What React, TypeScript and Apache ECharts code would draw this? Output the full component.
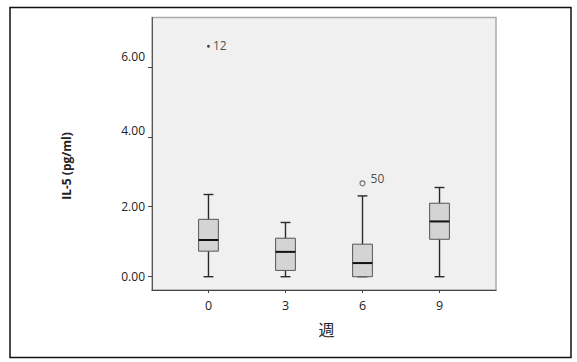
import React, { useEffect, useRef } from "react";
import * as echarts from "echarts";

const weeks = [0, 3, 6, 9];
const whiskerLow = [0, 0, 0, 0];
const q1 = [0.73, 0.18, 0.0, 1.07];
const median = [1.05, 0.71, 0.39, 1.58];
const q3 = [1.64, 1.1, 0.93, 2.1];
const whiskerHigh = [2.35, 1.55, 2.31, 2.55];

const outlierWeeks = [0, 6];
const outlierValues = [6.59, 2.67];
const outlierIds = ["12", "50"];
const outlierKinds = ["extreme", "outlier"];

const yTicks = [0, 2, 4, 6];
const xTicks = [0, 3, 6, 9];

const FONT = "'Open Sans', 'Noto Sans', sans-serif";

export default function App() {
  const ref = useRef<HTMLDivElement>(null);

  useEffect(() => {
    if (!ref.current) return;
    const chart = echarts.init(ref.current, undefined, { renderer: "svg" });

    const boxData = weeks.map((w, i) => [w, whiskerLow[i], q1[i], median[i], q3[i], whiskerHigh[i]]);
    const boxWidthUnits = 0.77;

    const outlierData = outlierWeeks.map((w, i) => {
      const extreme = outlierKinds[i] === "extreme";
      return {
        name: outlierIds[i],
        value: [w, outlierValues[i]],
        symbol: "circle",
        symbolSize: extreme ? 3 : 5,
        itemStyle: extreme
          ? { color: "#222" }
          : { color: "#f0f0f0", borderColor: "#555", borderWidth: 1.2 },
        label: {
          show: true,
          position: "right",
          distance: extreme ? 3 : 5,
          offset: extreme ? [0, -1] : [0, -5],
          formatter: "{b}",
          fontSize: 12,
          color: "#222",
          fontFamily: FONT,
        },
      };
    });

    const labelShift: Record<string, string> = { "6": "u10", "4": "u7" };

    chart.setOption({
      animation: false,
      backgroundColor: "#ffffff",
      grid: {
        left: 152,
        top: 17.5,
        right: 81,
        bottom: 72,
        show: true,
        backgroundColor: "#f0f0f0",
        borderColor: "#aaaaaa",
        borderWidth: 1.5,
      },
      xAxis: {
        type: "value",
        min: -2.2,
        max: 11.2,
        splitLine: { show: false },
        axisLine: { show: true, onZero: false, lineStyle: { color: "#444", width: 1.2 } },
        axisTick: { show: true, length: 3, customValues: xTicks, lineStyle: { color: "#444" } },
        axisLabel: {
          customValues: xTicks,
          margin: 9,
          fontSize: 12.5,
          color: "#222",
          fontFamily: FONT,
        },
        name: "週",
        nameLocation: "middle",
        nameGap: 31,
        nameTextStyle: {
          fontSize: 16,
          color: "#222",
          fontFamily: "'Noto Sans CJK JP', sans-serif",
          padding: [0, 0, 0, 5],
        },
      },
      yAxis: {
        type: "value",
        min: -0.38,
        max: 7.41,
        splitLine: { show: false },
        axisLine: { show: true, onZero: false, lineStyle: { color: "#555", width: 1 } },
        axisTick: { show: true, length: 4, customValues: yTicks, lineStyle: { color: "#444" } },
        axisLabel: {
          customValues: yTicks,
          margin: 7,
          fontSize: 12,
          color: "#222",
          fontFamily: FONT,
          formatter: (v: number) => {
            const key = String(Math.round(v));
            const txt = v.toFixed(2);
            const r = labelShift[key];
            return r ? `{${r}|${txt}}` : txt;
          },
          rich: {
            u10: { padding: [0, 0, 20, 0], fontSize: 12, color: "#222", fontFamily: FONT },
            u7: { padding: [0, 0, 13, 0], fontSize: 12, color: "#222", fontFamily: FONT },
          },
        },
      },
      graphic: [
        {
          type: "rect",
          shape: { x: 10, y: 7.5, width: 561, height: 350 },
          style: { fill: "none", stroke: "#111", lineWidth: 1.5 },
          silent: true,
        },
        {
          type: "text",
          x: 66.5,
          y: 166,
          rotation: Math.PI / 2,
          style: {
            text: "IL-5 (pg/ml)",
            align: "center",
            verticalAlign: "middle",
            fontSize: 12,
            fontWeight: "bold",
            fill: "#222",
            fontFamily: FONT,
          },
        },
      ],
      series: [
        {
          type: "custom",
          data: boxData,
          encode: { x: 0, y: [1, 2, 3, 4, 5] },
          renderItem: (params: any, api: any) => {
            const x = api.value(0);
            const pLo = api.coord([x, api.value(1)]);
            const pQ1 = api.coord([x, api.value(2)]);
            const pMed = api.coord([x, api.value(3)]);
            const pQ3 = api.coord([x, api.value(4)]);
            const pHi = api.coord([x, api.value(5)]);
            const bw = api.size([boxWidthUnits, 0])[0];
            const cw = bw / 2;
            const cx = pMed[0];
            const wStyle = { stroke: "#2a2a2a", lineWidth: 1.4 };
            return {
              type: "group",
              children: [
                { type: "line", shape: { x1: cx, y1: pLo[1], x2: cx, y2: pQ1[1] }, style: wStyle },
                { type: "line", shape: { x1: cx, y1: pQ3[1], x2: cx, y2: pHi[1] }, style: wStyle },
                { type: "line", shape: { x1: cx - cw / 2, y1: pLo[1], x2: cx + cw / 2, y2: pLo[1] }, style: wStyle },
                { type: "line", shape: { x1: cx - cw / 2, y1: pHi[1], x2: cx + cw / 2, y2: pHi[1] }, style: wStyle },
                {
                  type: "rect",
                  shape: { x: cx - bw / 2, y: pQ3[1], width: bw, height: pQ1[1] - pQ3[1] },
                  style: { fill: "#d4d4d4", stroke: "#555", lineWidth: 1 },
                },
                {
                  type: "line",
                  shape: { x1: cx - bw / 2, y1: pMed[1], x2: cx + bw / 2, y2: pMed[1] },
                  style: { stroke: "#111", lineWidth: 2 },
                },
              ],
            };
          },
          z: 3,
        },
        {
          type: "scatter",
          data: outlierData,
          z: 4,
        },
      ],
    });

    return () => chart.dispose();
  }, []);

  return (
    <div
      ref={ref}
      style={{ position: "fixed", left: 0, top: 0, width: 577, height: 362 }}
    />
  );
}
